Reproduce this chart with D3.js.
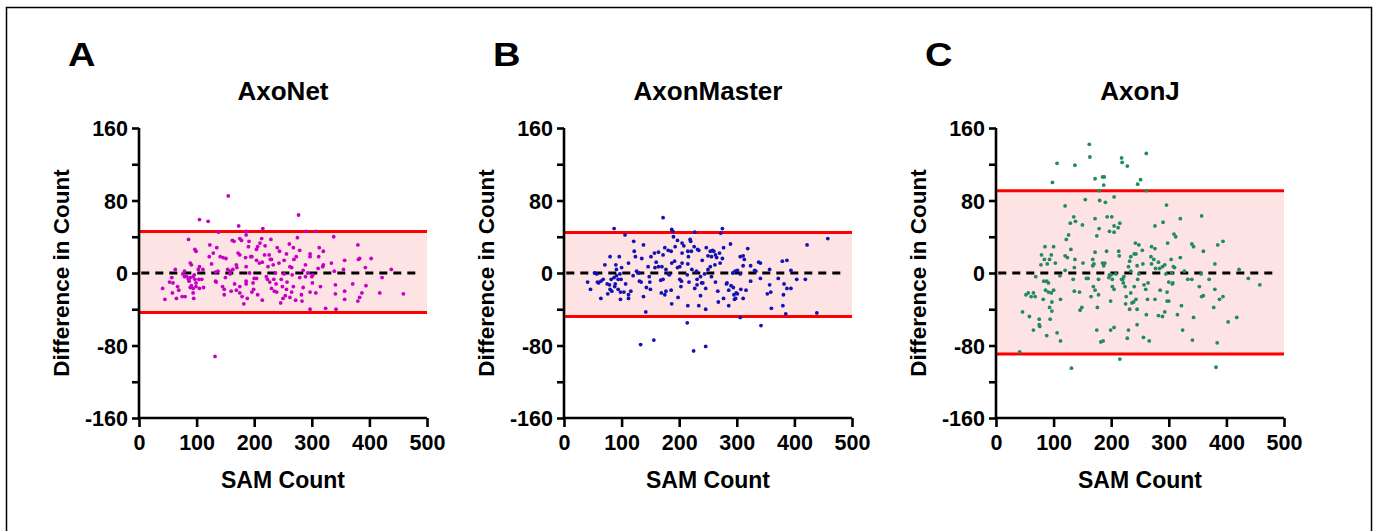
<!DOCTYPE html>
<html><head><meta charset="utf-8">
<script src="https://cdn.jsdelivr.net/npm/d3@7"></script>
<style>
html,body{margin:0;padding:0;background:#fff;}
svg{display:block;font-family:"Liberation Sans",Arial,sans-serif;}
</style></head>
<body><svg id="chart" width="1379" height="531"></svg>
<script>
// ---------------- DATA ----------------
const panelLetters = ["A", "B", "C"];
const panelTitles = ["AxoNet", "AxonMaster", "AxonJ"];
const xTicks = [0, 100, 200, 300, 400, 500];
const yTicks = [-160, -120, -80, -40, 0, 40, 80, 120, 160];
const yTickLabels = [-160, -80, 0, 80, 160];
const xLabel = "SAM Count";
const yLabel = "Difference in Count";
// limits of agreement [lower, upper], mean bias
const axonetLimits = [-43.5, 45.9];
const axonMasterLimits = [-47.9, 44.8];
const axonJLimits = [-89.4, 90.8];
const biases = [0, 0, 0];

// [SAM count, difference]
const axonetPoints = [
[155,85],[105,59],[120,57],[277,64],[173,52],[138,45],[186,46],[215,49],[290,46],[307,46],[132,-92],
[338,40],[86,37],[123,31],[380,31],[403,16],[438,4],[459,-23],[418,-22],[422,-5],[393,6],[394,-14],
[371,-12],[380,-31],[383,-27],[387,-22],[381,15],[383,16],[357,14],[355,4],[357,-20],[357,-29],
[342,-40],[324,-39],[297,-40],[341,-13],[341,-23],[339,2],[334,11],[320,9],[315,-15],[307,-22],
[297,-21],[301,-11],[300,-4],[302,-2],[313,28],[320,24],[312,18],[297,18],[297,21],[289,9],[285,3],
[293,0],[289,-4],[285,-16],[283,-31],[275,39],[279,25],[273,18],[269,15],[261,32],[268,28],[256,21],
[262,7],[265,6],[266,-2],[268,-15],[265,-21],[257,-10],[256,-18],[254,-25],[249,-15],[247,-7],
[246,-33],[240,28],[243,11],[233,9],[230,15],[228,15],[226,20],[219,30],[229,37],[213,38],[218,20],
[214,12],[224,7],[221,-4],[223,-7],[227,-10],[234,-7],[238,-12],[239,-21],[235,-20],[230,-17],
[214,-30],[199,-18],[196,-21],[198,-11],[204,-6],[209,11],[204,14],[204,26],[194,18],[196,18],
[190,29],[191,35],[186,42],[178,36],[175,38],[165,35],[162,36],[172,22],[175,20],[185,17],[186,7],
[169,9],[170,6],[163,4],[159,2],[154,4],[158,-1],[146,17],[151,16],[141,18],[135,28],[129,22],
[122,18],[126,10],[133,1],[137,2],[134,-10],[145,-15],[148,-18],[148,-24],[133,-9],[169,-19],
[175,-15],[175,-22],[179,-26],[182,-34],[186,-9],[186,-12],[105,7],[103,4],[111,4],[97,26],[99,24],
[89,11],[91,9],[79,2],[76,-1],[79,-4],[83,-4],[86,-7],[87,-9],[89,-5],[94,-4],[96,-2],[97,-7],
[99,-11],[104,-7],[105,-17],[99,-15],[94,-17],[91,-14],[89,-16],[94,-22],[95,-28],[80,-26],[75,-26],
[69,-19],[67,-15],[59,-11],[53,-10],[58,-22],[65,-28],[45,-29],[41,-17],[63,4],[57,-5],[112,-16],
[109,-7],[192,0],[200,-6],[237,0],[252,-1],[311,5],[319,7],[206,29],[210,33],[244,24],[252,14],
[279,-5],[282,-24],[262,-27],[272,-30],[250,-28],[206,-24],[188,-28],[160,-20],[166,-12],[150,-5]
];
const axonMasterPoints = [
[172,61],[87,49],[106,42],[187,48],[189,46],[227,45],[275,49],[272,44],[458,38],[422,31],[121,35],
[138,31],[122,24],[124,18],[135,16],[112,11],[96,18],[80,18],[71,9],[90,9],[91,4],[100,6],[97,-1],
[91,-3],[87,-5],[94,-7],[89,-12],[82,-7],[79,-13],[75,-12],[68,-7],[64,-9],[60,-11],[58,-10],[53,0],
[57,-1],[41,-10],[46,-18],[64,-28],[76,-23],[80,-18],[83,-20],[88,-15],[94,-18],[98,-21],[98,-29],
[104,-21],[112,-24],[112,-28],[107,-12],[99,-7],[120,-3],[126,2],[130,0],[131,-9],[134,-10],
[138,-26],[142,-43],[133,-79],[156,-74],[148,-4],[149,-10],[150,-18],[146,7],[151,18],[157,22],
[164,23],[172,20],[175,28],[181,25],[186,24],[193,29],[197,36],[205,33],[219,37],[220,35],[205,22],
[215,24],[221,24],[232,26],[234,25],[247,28],[254,24],[258,25],[260,24],[250,19],[256,18],[263,20],
[265,17],[270,22],[277,28],[289,32],[275,16],[271,11],[262,9],[254,7],[250,4],[244,-1],[237,-4],
[231,-7],[239,-11],[241,-11],[237,-25],[246,-17],[246,-40],[246,-81],[225,-86],[234,-36],[215,-36],
[214,-55],[227,-17],[231,-13],[217,-10],[214,-2],[222,4],[215,10],[216,18],[205,11],[201,7],[201,-7],
[204,-9],[203,-15],[198,-27],[187,-34],[177,-20],[169,-22],[175,-24],[186,-19],[168,-8],[172,-7],
[181,-1],[183,-2],[170,7],[177,4],[187,11],[192,13],[197,6],[164,7],[158,6],[256,-4],[263,-10],
[267,-20],[268,-32],[277,-28],[282,-12],[283,-11],[286,-19],[286,-36],[290,-14],[294,-16],[295,-24],
[296,-29],[299,-22],[301,-23],[298,-28],[307,-18],[311,-28],[316,-19],[306,-49],[293,0],[297,2],
[301,3],[306,-1],[311,8],[313,15],[306,18],[311,19],[319,27],[324,8],[324,-9],[331,3],[338,12],
[341,11],[341,-6],[333,2],[342,-58],[357,4],[357,-13],[359,-21],[353,-23],[360,-39],[372,-6],
[379,13],[387,14],[382,-12],[387,-17],[394,-17],[381,-24],[380,-36],[385,-45],[394,3],[404,-7],
[419,-7],[439,-44],[190,40],[208,30],[226,29],[160,12],[143,-16],[116,-20],[230,2],[240,14]
];
const axonJPoints = [
[162,142],[163,128],[261,132],[218,127],[219,122],[228,118],[106,121],[137,119],[98,100],[172,104],
[185,106],[188,106],[187,97],[179,91],[246,98],[251,103],[261,91],[155,81],[180,80],[190,78],
[205,84],[120,74],[135,62],[138,57],[129,55],[150,53],[172,60],[193,62],[201,62],[215,55],[212,50],
[205,52],[205,45],[197,46],[179,49],[175,41],[126,42],[122,37],[130,26],[120,19],[124,17],[137,15],
[151,11],[168,15],[172,23],[192,24],[213,24],[214,19],[168,8],[170,10],[185,11],[187,8],[136,6],
[120,3],[111,-3],[100,29],[103,11],[96,20],[93,15],[89,10],[85,29],[84,15],[79,20],[78,9],[88,-9],
[83,-9],[91,-11],[86,-19],[91,-21],[96,-22],[100,-19],[97,-32],[93,-38],[97,-42],[94,-51],[112,-29],
[82,-29],[75,-57],[76,-59],[75,-51],[58,-48],[46,-43],[65,-63],[88,-69],[106,-66],[112,-75],[52,-24],
[56,-22],[61,-26],[65,-22],[68,-26],[69,-4],[41,-87],[131,-105],[134,-7],[136,-20],[145,-21],
[146,-41],[149,-38],[157,-6],[160,-6],[165,-26],[169,-15],[172,-19],[178,-24],[176,-38],[175,-63],
[182,-76],[186,-75],[178,-7],[197,-2],[199,-31],[202,-15],[205,-18],[205,-60],[199,-63],[215,-95],
[218,-7],[221,-11],[224,-15],[225,-34],[226,-26],[228,-72],[230,-63],[232,-40],[234,-22],[236,-33],
[240,-15],[239,-32],[243,-29],[245,-40],[245,-57],[256,-71],[266,-75],[261,-46],[263,-29],[264,-11],
[260,-18],[257,-13],[276,-29],[285,-19],[282,-47],[289,-48],[293,-43],[297,-31],[300,-31],[297,-21],
[300,-10],[307,-11],[315,-46],[322,-36],[324,-63],[341,-74],[343,-49],[357,-26],[360,-25],[353,-15],
[378,-38],[380,-18],[394,-26],[388,-29],[384,-77],[382,-104],[403,-54],[418,-49],[458,-13],[438,-6],
[422,4],[394,35],[385,31],[380,10],[370,-7],[356,-1],[360,24],[357,63],[340,32],[343,29],[333,-7],
[340,-7],[327,2],[320,17],[320,60],[309,43],[312,40],[296,75],[298,33],[290,56],[276,52],[270,29],
[276,27],[269,18],[274,15],[270,10],[277,5],[282,12],[289,7],[293,9],[304,15],[308,7],[310,6],
[305,0],[306,-12],[295,-1],[284,5],[255,10],[245,8],[240,21],[243,21],[242,33],[248,31],[254,25],
[234,18],[232,13],[230,7],[234,2],[246,-7],[248,-1],[220,-7],[222,-4],[208,-1],[200,-2],[202,-7],
[196,-5],[189,11]
];

const panelPoints = [axonetPoints, axonMasterPoints, axonJPoints];
const panelLimits = [axonetLimits, axonMasterLimits, axonJLimits];
const pointColors = ["#c400c4", "#1212b4", "#1e8c5e"];

// ---------------- LAYOUT ----------------
const svg = d3.select("#chart");
svg.append("rect").attr("x", 6.5).attr("y", 7.5).attr("width", 1365).attr("height", 600)
  .attr("fill", "none").attr("stroke", "#000").attr("stroke-width", 1.5);

const panelX0 = [139, 564, 996];
const plotW = 288, plotTop = 128, plotBottom = 418;

panelTitles.forEach((title, i) => {
  const x0 = panelX0[i];
  const x = d3.scaleLinear().domain([0, 500]).range([x0, x0 + plotW]);
  const y = d3.scaleLinear().domain([-160, 160]).range([plotBottom, plotTop]);
  const g = svg.append("g");
  const lim = panelLimits[i];

  // band
  g.append("rect").attr("x", x(0)).attr("width", x(500) - x(0))
    .attr("y", y(lim[1])).attr("height", y(lim[0]) - y(lim[1]))
    .attr("fill", "#fde3e3");
  // limits
  lim.forEach(v => {
    g.append("line").attr("x1", x(0)).attr("x2", x(500)).attr("y1", y(v)).attr("y2", y(v))
      .attr("stroke", "#ff0000").attr("stroke-width", 3);
  });
  // bias dashed line
  g.append("line").attr("x1", x(4)).attr("x2", x(490)).attr("y1", y(biases[i])).attr("y2", y(biases[i]))
    .attr("stroke", "#000").attr("stroke-width", 3).attr("stroke-dasharray", "8,6");

  // points
  g.selectAll("circle.pt").data(panelPoints[i]).join("circle")
    .attr("class", "pt")
    .attr("cx", d => x(d[0])).attr("cy", d => y(d[1])).attr("r", 1.9)
    .attr("fill", pointColors[i]);

  // axes
  const yAxis = d3.axisLeft(y).tickValues(yTicks).tickSize(7).tickPadding(4)
    .tickFormat(d => yTickLabels.includes(d) ? d : "");
  const ya = g.append("g").attr("transform", `translate(${x0},0)`).call(yAxis);
  const xAxis = d3.axisBottom(x).tickValues(xTicks).tickSize(9).tickPadding(4);
  const xa = g.append("g").attr("transform", `translate(0,${plotBottom})`).call(xAxis);
  [ya, xa].forEach(a => {
    a.select(".domain").attr("stroke-width", 2.6).attr("stroke", "#000");
    a.selectAll(".tick line").attr("stroke-width", 2.6).attr("stroke", "#000");
    a.selectAll(".tick text").attr("font-size", 21.5).attr("font-weight", "bold")
      .attr("fill", "#000").attr("font-family", "'Liberation Sans', Arial, sans-serif");
  });
  ya.select(".domain").attr("d", `M0,${plotTop}V${plotBottom}`);
  xa.select(".domain").attr("d", `M${x0},0H${x0 + plotW}`);
  ya.selectAll(".tick text").attr("dy", "0.36em");
  xa.selectAll(".tick text").attr("dy", "0.88em");

  // labels
  g.append("text").attr("x", x(250)).attr("y", 488).attr("text-anchor", "middle")
    .attr("font-size", 23).attr("font-weight", "bold").text(xLabel);
  g.append("text").attr("transform", `translate(${x0 - 70},${y(0)}) rotate(-90)`)
    .attr("text-anchor", "middle").attr("font-size", 22.5).attr("font-weight", "bold").text(yLabel);
  g.append("text").attr("x", x(250)).attr("y", 100).attr("text-anchor", "middle")
    .attr("font-size", 26).attr("font-weight", "bold").text(title);
  g.append("text").attr("transform", `translate(${x0 - 71},66) scale(1.12,1)`)
    .attr("font-size", 34).attr("font-weight", "bold").text(panelLetters[i]);
});
</script></body></html>
